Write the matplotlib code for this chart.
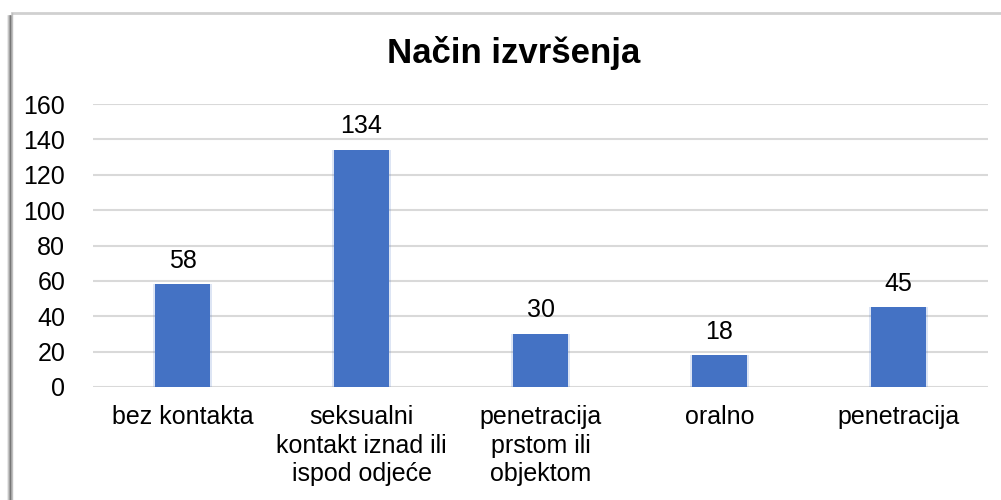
import numpy as np
import matplotlib.pyplot as plt
from matplotlib.lines import Line2D

plt.rcParams['font.family'] = ['Liberation Sans', 'DejaVu Sans']

# data
categories = ['bez kontakta',
              'seksualni\nkontakt iznad ili\nispod odjeće',
              'penetracija\nprstom ili\nobjektom',
              'oralno',
              'penetracija']
counts = [58, 134, 30, 18, 45]
yticks = [0, 20, 40, 60, 80, 100, 120, 140, 160]

W, H = 1001, 500
fig = plt.figure(figsize=(W / 100, H / 100), dpi=100)

# chart frame with a soft shadow on the left
for i, a in enumerate([0.10, 0.18, 0.30, 0.45]):
    fig.add_artist(Line2D([(8 + i) / W, (8 + i) / W], [0, 1 - 16 / H],
                          color='black', alpha=a, lw=1.2))
fig.add_artist(Line2D([12 / W, 1], [1 - 13 / H, 1 - 13 / H],
                      color='#d0d0d0', lw=2))
fig.add_artist(Line2D([12 / W, 12 / W], [0, 1 - 13 / H],
                      color='#bfbfbf', lw=1))

ax = fig.add_axes([93 / W, 1 - 387 / H, 895 / W, 283 / H])
x = np.arange(len(categories))
# faint glow around the bars
ax.bar(x, counts, width=0.33, color='#4472C4', alpha=0.18, zorder=2)
bars = ax.bar(x, counts, width=0.31, color='#4472C4', zorder=3)

for b, v in zip(bars, counts):
    ax.text(b.get_x() + b.get_width() / 2, v + 6.5, str(v),
            ha='center', va='bottom', fontsize=18, color='black')

ax.set_ylim(0, 160)
ax.set_xlim(-0.5, len(categories) - 0.5)
ax.set_yticks(yticks)
ax.set_yticklabels([str(t) for t in yticks], fontsize=18)
ax.set_xticks(x)
ax.set_xticklabels(categories, fontsize=18, linespacing=1.24)
ax.tick_params(length=0)
ax.tick_params(axis='y', pad=20)
ax.tick_params(axis='x', pad=13)
ax.yaxis.grid(True, color='#d9d9d9', lw=1.5, zorder=0)
ax.set_axisbelow(True)
for s in ax.spines.values():
    s.set_visible(False)

fig.text(514 / W, 1 - 53 / H, 'Način izvršenja', ha='center', va='center',
         fontsize=25, fontweight='bold')

fig.savefig('out.png', dpi=100)
